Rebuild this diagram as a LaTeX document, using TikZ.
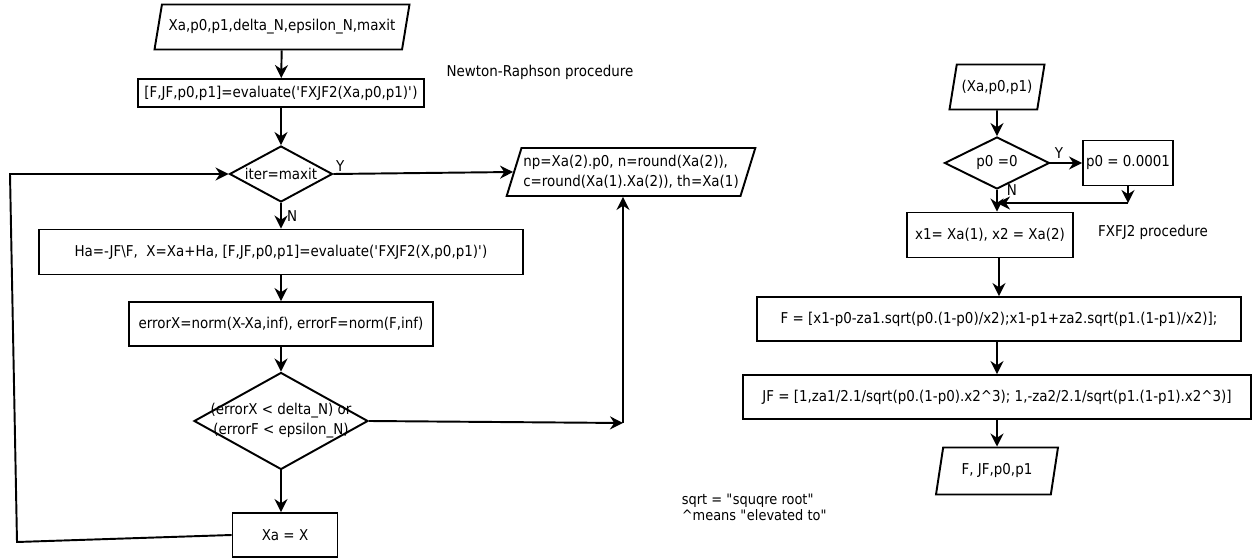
\documentclass[tikz,border=0pt]{standalone}
\usepackage{fontspec}
\setmainfont{DejaVu Sans}[FakeStretch=0.9]
\usetikzlibrary{shapes.geometric, arrows.meta, positioning}

\begin{document}
\begin{tikzpicture}[x=0.02cm, y=-0.02cm, line width=1.1pt, >={Stealth[length=2.6mm,width=2.6mm]},
	every node/.style={font=\fontsize{8.5}{11.3}\selectfont},
	proc/.style={rectangle, draw, inner sep=1pt},
	io/.style={trapezium, trapezium left angle=68, trapezium right angle=112, trapezium stretches body, draw, inner sep=1pt},
	decision/.style={diamond, draw, inner sep=0pt}]
		\useasboundingbox (0,0) rectangle (1258,560);
		% Newton-Raphson procedure
		\node[io, minimum width=5.1cm, minimum height=0.9cm] (in1) at (282,27) {Xa,p0,p1,delta\_N,epsilon\_N,maxit};
		\node[proc, minimum width=5.72cm, minimum height=0.56cm] (ev1) at (281,93) {[F,JF,p0,p1]=evaluate(\textquotesingle FXJF2(Xa,p0,p1)\textquotesingle)};
		\node[decision, minimum width=2.06cm, minimum height=1.12cm, label=center:{iter=maxit}] (d1) at (281,174) {};
		\node[proc, minimum width=9.7cm, minimum height=0.9cm] (upd) at (281,252) {Ha=-JF\textbackslash F,\ \ X=Xa+Ha, [F,JF,p0,p1]=evaluate(\textquotesingle FXJF2(X,p0,p1)\textquotesingle)};
		\node[proc, minimum width=6.08cm, minimum height=0.88cm] (err) at (281,324) {errorX=norm(X-Xa,inf), errorF=norm(F,inf)};
		\node[decision, minimum width=3.48cm, minimum height=1.94cm, label={[align=center]center:{(errorX < delta\_N) or\\ (errorF < epsilon\_N)}}] (d2) at (281,421) {};
		\node[proc, minimum width=2.1cm, minimum height=0.88cm] (upx) at (285,535) {Xa = X};
		\node[io, minimum width=4.94cm, minimum height=0.96cm, align=left] (out1) at (631,172) {np=Xa(2).p0, n=round(Xa(2)),\\ c=round(Xa(1).Xa(2)), th=Xa(1)};
		\node (nrtitle) at (540,72) {Newton-Raphson procedure};
		\coordinate (turn) at (623,423);
		\coordinate (lb) at (17,542);
		\coordinate (lt) at (10,174);

		\draw[->] (in1) -- (ev1);
		\draw[->] (ev1) -- (d1);
		\draw[->] (d1.east) -- node[pos=0, above right, inner sep=1pt] {Y} (out1.west);
		\draw[->] (d1) -- node[right, inner sep=3pt] {N} (upd);
		\draw[->] (upd) -- (err);
		\draw[->] (err) -- (d2);
		\draw[->] (d2.south) -- (d2.south |- upx.north);
		\draw[->] (d2.east) -- (turn);
		\draw[->] (turn) -- (turn |- out1.south);
		\draw[->] (upx.west) -- (lb) -- (lt) -- (d1.west);

		% FXFJ2 procedure
		\node[io, minimum width=1.9cm, minimum height=0.9cm] (in2) at (997,87) {(Xa,p0,p1)};
		\node[decision, minimum width=2.1cm, minimum height=1.04cm, label=center:{p0 =0}] (d3) at (997,163) {};
		\node[proc, minimum width=1.8cm, minimum height=0.9cm] (fix) at (1128,163) {p0 = 0.0001};
		\node[proc, minimum width=3.32cm, minimum height=0.9cm] (xs) at (990,235) {x1= Xa(1), x2 = Xa(2)};
		\node (fxtitle) at (1153,232) {FXFJ2 procedure};
		\node[proc, minimum width=9.7cm, minimum height=0.88cm] (fbox) at (999,319) {F = [x1-p0-za1.sqrt(p0.(1-p0)/x2);x1-p1+za2.sqrt(p1.(1-p1)/x2)];};
		\node[proc, minimum width=10.18cm, minimum height=0.88cm] (jbox) at (997,397) {JF = [1,za1/2.1/sqrt(p0.(1-p0).x2\textasciicircum 3); 1,-za2/2.1/sqrt(p1.(1-p1).x2\textasciicircum 3)]};
		\node[io, minimum width=2.44cm, minimum height=0.94cm] (out2) at (997,471) {F, JF,p0,p1};
		\node[anchor=west, align=left, font=\fontsize{8.2}{9.2}\selectfont] (notes) at (675,507) {sqrt = \textquotedbl squqre root\textquotedbl\\ \textasciicircum means \textquotedbl elevated to\textquotedbl};
		\coordinate (join) at (1128,203);

		\draw[->] (in2) -- (d3);
		\draw[->] (d3.east) -- node[pos=0, above right, inner sep=2pt] {Y} (fix.west);
		\draw[->] (d3.south) -- node[pos=0, right, inner sep=5pt] {N} (d3.south |- xs.north);
		\draw[->] (fix) -- (join);
		\draw[->] (join) -- (join -| d3.south);
		\draw[->] (fbox.north |- xs.south) -- (fbox.north);
		\draw[->] (fbox.south -| jbox.north) -- (jbox.north);
		\draw[->] (jbox) -- (out2);
	\end{tikzpicture}
\end{document}
